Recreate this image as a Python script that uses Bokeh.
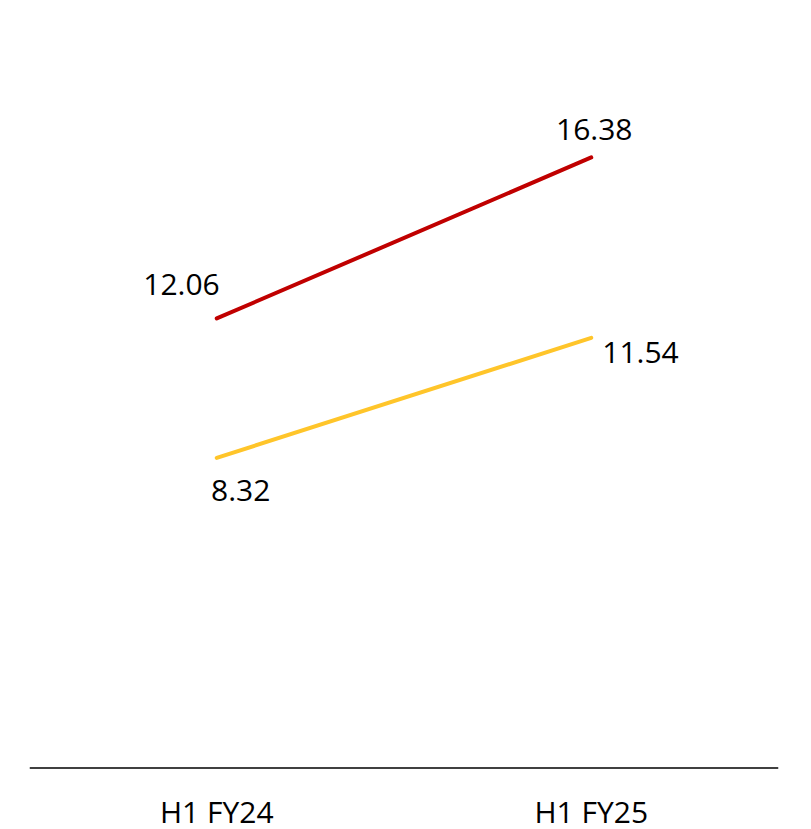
from bokeh.plotting import figure
from bokeh.models import FactorRange, Range1d, Span
from bokeh.core.properties import value
from bokeh.embed import file_html
from bokeh.resources import INLINE

categories = ["H1 FY24", "H1 FY25"]
series_red = [12.06, 16.38]
series_yellow = [8.32, 11.54]

FONT = "Open Sans"
RED = "#C00000"
YELLOW = "#FFC52A"

p = figure(width=795, height=829, x_range=FactorRange(*categories), y_range=Range1d(-1.65, 20),
           output_backend="svg", toolbar_location=None,
           min_border_left=29, min_border_right=17, min_border_top=22, min_border_bottom=0)
p.outline_line_color = None
p.xgrid.grid_line_color = None
p.ygrid.grid_line_color = None
p.yaxis.visible = False
p.xaxis.visible = False

p.add_layout(Span(location=0, dimension="width", line_color="black", line_width=1.5))

p.text(x=categories, y=[0] * len(categories), text=categories, text_align="center",
       text_baseline="middle", y_offset=44, text_font=value(FONT), text_font_size="30px",
       text_color="black")

p.line(categories, series_red, line_color=RED, line_width=4, line_cap="round")
p.line(categories, series_yellow, line_color=YELLOW, line_width=4, line_cap="round")

def lab(x, y, txt, align, dx, dy):
    p.text(x=[x], y=[y], text=[txt], text_align=align, text_baseline="middle",
           x_offset=dx, y_offset=dy, text_font=value(FONT), text_font_size="30px",
           text_color="black")

lab(categories[0], series_red[0], f"{series_red[0]:.2f}", "right", 3, -34)
lab(categories[1], series_red[1], f"{series_red[1]:.2f}", "center", 3, -28)
lab(categories[0], series_yellow[0], f"{series_yellow[0]:.2f}", "center", 24, 33)
lab(categories[1], series_yellow[1], f"{series_yellow[1]:.2f}", "left", 11, 15)

open("out.html", "w").write(file_html(p, INLINE))
